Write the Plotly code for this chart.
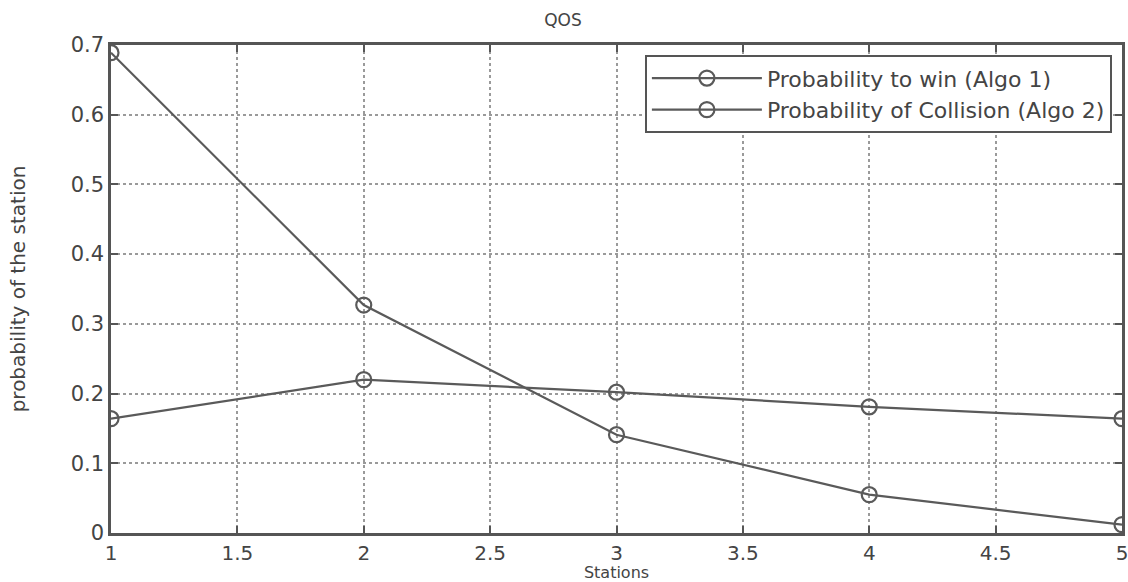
import plotly.graph_objects as go

stations = [1, 2, 3, 4, 5]
prob_win_algo1 = [0.689, 0.327, 0.141, 0.055, 0.012]
prob_collision_algo2 = [0.164, 0.220, 0.202, 0.181, 0.164]
x_ticks = [1, 1.5, 2, 2.5, 3, 3.5, 4, 4.5, 5]
y_ticks = [0, 0.1, 0.2, 0.3, 0.4, 0.5, 0.6, 0.7]

line_color = "#5a5a5a"
font_family = "DejaVu Sans, Liberation Sans, Arial, sans-serif"
text_color = "#444444"

fig = go.Figure()
fig.add_trace(go.Scatter(
    x=stations, y=prob_win_algo1, mode="lines+markers",
    name="Probability to win (Algo 1)",
    line=dict(color=line_color, width=2.2),
    marker=dict(symbol="circle-open", size=15, color=line_color, line=dict(width=2.2)),
))
fig.add_trace(go.Scatter(
    x=stations, y=prob_collision_algo2, mode="lines+markers",
    name="Probability of Collision (Algo 2)",
    line=dict(color=line_color, width=2.2),
    marker=dict(symbol="circle-open", size=15, color=line_color, line=dict(width=2.2)),
))

axis_common = dict(
    showline=True, linecolor="#555555", linewidth=2.5, mirror="ticks",
    ticks="inside", ticklen=7, tickcolor="#555555", tickwidth=2,
    showgrid=True, gridcolor="#9a9a9a", griddash="dot", gridwidth=1.8,
    zeroline=False, automargin=False,
    ticklabeloverflow="allow",
)

fig.update_layout(
    width=1128, height=582,
    margin=dict(l=111, r=6, t=45, b=49),
    paper_bgcolor="white", plot_bgcolor="white",
    font=dict(family=font_family, color=text_color),
    title=dict(text="QOS", x=563 / 1128, xanchor="center", y=1 - 20 / 582, yanchor="middle",
               font=dict(family=font_family, size=17, color=text_color)),
    xaxis=dict(range=[1, 5], tickvals=x_ticks, ticktext=[str(v) for v in x_ticks],
               tickfont=dict(family=font_family, size=20, color=text_color),
               title=dict(text="Stations", standoff=6,
                          font=dict(size=16, family=font_family, color=text_color)),
               **axis_common),
    yaxis=dict(range=[0, 0.7], tickvals=y_ticks, ticktext=[("0" if v == 0 else f"{v:.1f}") for v in y_ticks],
               tickfont=dict(family=font_family, size=21, color=text_color),
               title=dict(text="probability of the station", standoff=40,
                          font=dict(size=20, family=font_family, color=text_color)),
               **axis_common),
    legend=dict(x=0.990, y=0.979, xanchor="right", yanchor="top",
                bgcolor="white", bordercolor="#555555", borderwidth=2,
                font=dict(family=font_family, size=22, color=text_color),
                itemwidth=110, tracegroupgap=0),
    showlegend=True,
)

fig.write_html("out.html", config={"displayModeBar": False},
               post_script="document.body.style.margin='0';")
